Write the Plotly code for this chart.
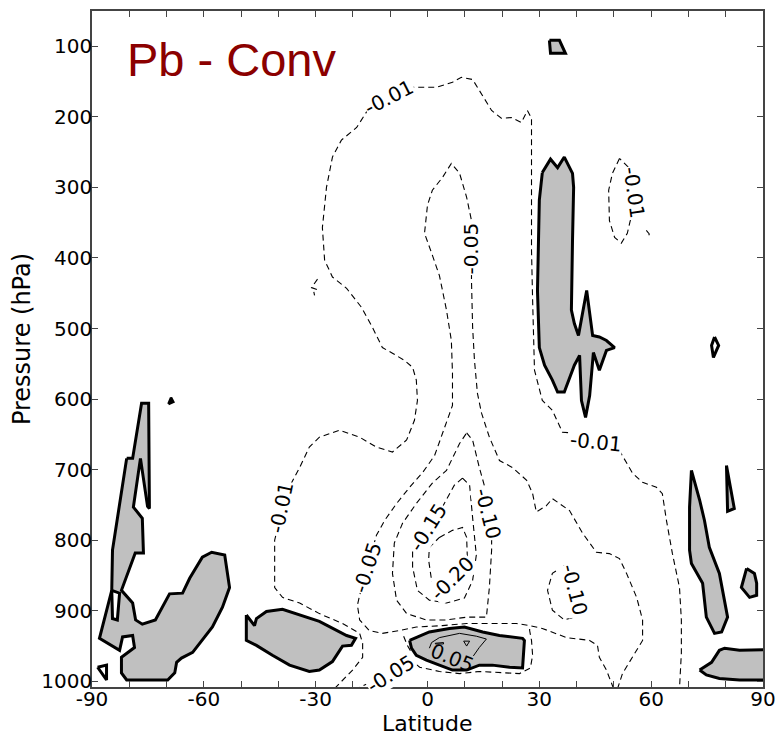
import plotly.graph_objects as go

# ---------------------------------------------------------------
# Pb tendency difference (Conv), zonal mean: latitude vs pressure
# Contour paths are (latitude [deg], pressure [hPa]) pairs.
# ---------------------------------------------------------------

# zero contour: positive regions (shaded)
top_cap = [(32.7, 91.5), (35.4, 91.5), (37.0, 110), (33.0, 110), (32.7, 91.5)]

nh_column = [(30.8, 279), (33.0, 260), (34.9, 272), (36.7, 257), (38.9, 280), (39.2, 300),
             (38.9, 375), (38.6, 446), (38.6, 474), (39.4, 493), (40.5, 510), (42.7, 446),
             (44.3, 510), (46.1, 512), (48.0, 517), (50.2, 527), (48.0, 531), (46.1, 559),
             (44.5, 534), (43.5, 595), (42.4, 626), (41.3, 602), (40.8, 538), (39.4, 552),
             (38.6, 563), (36.7, 590), (34.9, 590), (33.5, 573), (31.4, 552), (30.0, 527),
             (29.5, 446), (29.8, 375), (30.0, 318), (30.8, 279)]

sh_polar = [(-80.7, 684), (-79.1, 684), (-76.7, 606), (-74.8, 606), (-74.6, 755), (-75.1, 752),
            (-77.0, 684), (-78.9, 753), (-76.5, 769), (-76.2, 818), (-78.4, 818), (-82.1, 871),
            (-79.1, 889), (-78.3, 913), (-76.5, 919), (-73.0, 913), (-69.2, 876), (-65.7, 875),
            (-63.8, 854), (-60.4, 824), (-57.9, 817), (-54.4, 821), (-53.1, 867), (-55.0, 895),
            (-57.7, 923), (-61.2, 946), (-63.0, 959), (-66.0, 967), (-67.3, 973), (-67.8, 988),
            (-69.7, 998), (-80.7, 998), (-82.1, 988), (-82.1, 966), (-78.6, 952), (-79.1, 935),
            (-81.8, 937), (-82.6, 956), (-88.0, 939), (-84.7, 871), (-84.5, 814), (-80.7, 684)]

sh_polar_gap = [(-84.7, 871), (-82.6, 875), (-83.2, 913), (-84.5, 911), (-84.7, 871)]

sh_mid = [(-48.6, 906), (-46.4, 921), (-45.9, 911), (-43.2, 901), (-38.9, 898), (-34.3, 906),
          (-29.0, 915), (-21.7, 935), (-19.3, 939), (-20.4, 949), (-22.8, 950), (-25.5, 972),
          (-29.0, 984), (-31.7, 986), (-37.0, 977), (-41.6, 963), (-45.9, 949), (-48.6, 942),
          (-48.6, 906)]

tropics_sfc = [(-4.8, 942), (-3.0, 938), (0.5, 930), (5.9, 925), (9.9, 923), (14.8, 930),
               (19.3, 935), (25.5, 939), (26.0, 942), (25.5, 981), (22.0, 980), (17.4, 977),
               (13.9, 977), (10.5, 984), (6.7, 984), (3.2, 977), (-0.3, 970), (-3.0, 963),
               (-4.3, 953), (-4.8, 942)]

arctic_a = [(70.8, 701), (73.0, 743), (74.3, 772), (75.6, 810), (78.3, 847), (80.5, 909),
            (78.9, 930), (77.0, 932), (74.8, 909), (73.8, 861), (70.8, 833), (70.3, 814),
            (70.3, 753), (70.8, 701)]
arctic_b = [(80.2, 694), (82.3, 755), (80.5, 759), (80.2, 694)]
arctic_c = [(85.6, 840), (87.7, 847), (88.3, 861), (88.3, 878), (86.4, 881), (84.2, 867),
            (85.6, 840)]
arctic_sfc = [(73.0, 984), (76.2, 973), (78.3, 956), (79.7, 953), (83.7, 956), (91.0, 955),
              (91.0, 998), (83.7, 998), (78.3, 996), (74.8, 991), (73.0, 984)]

# tiny zero-contour loops (outline only)
small_loops = [
    [(77.0, 512), (78.1, 524), (76.7, 541), (76.2, 524), (77.0, 512)],
    [(-88.5, 980), (-86.1, 977), (-86.1, 998), (-88.5, 980)],
]
speck = [(-69.5, 607), (-68.8, 598), (-68.2, 604), (-69.5, 607)]

# +0.05 contour (thin solid)
pos05 = [(0.5, 953), (1.1, 945), (3.2, 938), (8.6, 932), (13.1, 936), (15.8, 940),
         (13.9, 952), (12.3, 964)]
pos05_loops = [
    [(2.1, 946), (4.3, 945), (4.3, 947), (2.1, 947), (2.1, 946)],
    [(9.7, 943), (11.3, 943), (10.5, 950), (9.7, 943)],
]

# negative contours (dashed)
neg01_main = [(-24.9, 1010), (-20.1, 984), (-17.4, 966), (-17.4, 946), (-18.2, 932),
              (-22.8, 918), (-29.0, 904), (-34.3, 889), (-38.9, 881), (-41.0, 867),
              (-41.0, 800), (-38.9, 753), (-36.5, 719), (-34.3, 697), (-31.7, 668),
              (-29.0, 654), (-23.6, 644), (-18.2, 654), (-13.7, 668), (-9.4, 675),
              (-5.6, 658), (-3.5, 630), (-2.7, 602), (-3.0, 573), (-4.0, 555), (-6.2, 545),
              (-9.4, 535), (-12.1, 527), (-14.8, 498), (-17.7, 470), (-21.7, 443),
              (-25.5, 427), (-27.6, 403), (-28.2, 357), (-27.1, 300), (-25.5, 257),
              (-23.1, 233), (-19.0, 215), (-16.1, 191), (-10.2, 172), (-4.0, 158),
              (2.4, 158), (6.7, 151), (9.1, 144), (12.1, 147), (13.9, 162), (17.2, 191),
              (19.8, 202), (22.5, 201), (25.2, 208), (26.8, 191), (27.9, 202), (27.9, 389),
              (28.2, 460), (28.7, 559), (30.8, 602), (33.5, 616), (36.2, 647), (38.9, 648),
              (45.1, 658), (51.5, 673), (55.0, 705), (57.7, 718), (61.4, 725), (63.0, 734),
              (64.1, 772), (65.7, 819), (67.6, 867), (68.1, 913), (68.1, 960), (67.6, 1010)]

neg01_east = [(51.5, 259), (49.6, 280), (48.6, 304), (48.8, 347), (50.2, 371), (52.0, 379),
              (53.6, 365), (54.7, 340), (55.5, 304), (54.2, 273), (51.5, 259)]

neg01_bits = [
    [(58.7, 361), (59.5, 366), (59.0, 372)],
    [(-29.5, 430), (-31.1, 442), (-29.0, 446)],
    [(-30.5, 448), (-30.3, 453)],
]

neg05_main = [(49.9, 1010), (48.0, 984), (46.1, 966), (45.6, 949), (43.5, 942), (37.3, 938),
              (30.8, 925), (27.4, 921), (23.9, 918), (16.6, 918), (10.5, 918), (4.0, 921),
              (-3.0, 923), (-7.5, 928), (-12.1, 932), (-15.6, 928), (-18.2, 913),
              (-18.8, 892), (-18.2, 878), (-16.1, 838), (-13.7, 793), (-11.5, 772),
              (-8.3, 748), (-4.8, 725), (-1.3, 704), (1.9, 680), (4.6, 641), (6.7, 609),
              (6.7, 563), (6.4, 517), (5.1, 474), (3.2, 425), (1.3, 396), (-0.8, 365),
              (0.0, 325), (1.3, 304), (4.0, 286), (6.4, 266), (8.6, 280), (10.5, 314),
              (11.8, 347), (11.8, 386), (11.8, 432), (12.1, 498), (12.6, 545), (13.4, 592),
              (14.5, 620), (16.6, 654), (19.3, 687), (22.8, 697), (26.6, 715), (28.2, 734),
              (29.2, 760), (31.9, 751), (33.5, 741), (38.1, 758), (41.6, 790), (45.3, 817),
              (48.8, 819), (51.5, 826), (53.4, 847), (56.1, 881), (57.7, 913), (57.7, 942),
              (55.0, 966), (52.3, 989), (51.0, 1010)]

neg05_sfc = [(-19.6, 1012), (-10.2, 989), (-4.0, 972), (-2.1, 980), (3.2, 986), (8.6, 989),
             (13.9, 986), (19.3, 987), (24.7, 989), (27.6, 981), (28.2, 963), (27.9, 942),
             (27.4, 928), (27.4, 921)]
neg05_tip = [(-6.4, 936), (-5.4, 949), (-4.3, 959)]

neg10_center = [(10.5, 648), (12.1, 658), (13.9, 697), (15.6, 729), (17.2, 772), (17.2, 814),
                (16.6, 867), (15.8, 909), (10.5, 909), (5.1, 913), (-0.3, 913), (-5.6, 904),
                (-8.3, 885), (-9.4, 847), (-8.9, 804), (-6.7, 776), (-3.0, 748), (1.3, 719),
                (5.1, 701), (8.6, 663), (10.5, 648)]

neg10_east = [(36.7, 836), (33.5, 847), (32.2, 871), (33.5, 899), (36.7, 913), (39.4, 909),
              (41.6, 885), (40.8, 857), (38.9, 840), (36.7, 836)]

neg15 = [(9.4, 712), (11.3, 722), (12.1, 768), (13.1, 821), (12.1, 857), (9.9, 882),
         (5.1, 889), (0.5, 885), (-2.7, 871), (-4.0, 838), (-4.0, 810), (0.0, 782),
         (4.0, 753), (7.2, 722), (9.4, 712)]

neg20 = [(3.2, 796), (6.7, 786), (9.4, 782), (10.5, 796), (10.7, 826), (6.7, 853),
         (2.4, 875), (1.1, 857), (0.3, 828), (0.5, 810), (3.2, 796)]

# inline contour labels: (text, latitude, pressure, angle)
contour_labels = [
    ("-0.01", -10.2, 172, -27),
    ("-0.05", 11.8, 386, -90),
    ("-0.01", 55.3, 307, 82),
    ("-0.01", 45.1, 661, 6),
    ("-0.01", -39.2, 753, -78),
    ("-0.05", -16.1, 838, -72),
    ("-0.15", 0.0, 782, -58),
    ("-0.20", 6.7, 853, -45),
    ("-0.10", 16.1, 762, 76),
    ("-0.10", 39.4, 871, 76),
    ("-0.05", -9.9, 990, -32),
]
pos_label = ("0.05", 6.7, 967, 22)

lat_ticks = list(range(-90, 91, 10))
lat_labels = [str(v) if v % 30 == 0 else "" for v in lat_ticks]
p_ticks = list(range(100, 1001, 100))

GRAY = "#c0c0c0"
DASH = "6px,4px"
LABEL_SIZE = 20

fig = go.Figure()


def path(pts, **kw):
    fig.add_trace(go.Scatter(x=[a for a, _ in pts], y=[b for _, b in pts], mode="lines",
                             hoverinfo="skip", showlegend=False, **kw))


# shaded positive regions with thick zero contour
for shape in [top_cap, nh_column, sh_polar, sh_mid, tropics_sfc,
              arctic_a, arctic_b, arctic_c, arctic_sfc]:
    path(shape, fill="toself", fillcolor=GRAY, line=dict(color="black", width=3))
path(sh_polar_gap, fill="toself", fillcolor="white", line=dict(color="black", width=3))
for loop in small_loops:
    path(loop, line=dict(color="black", width=3))
path(speck, fill="toself", fillcolor="black", line=dict(color="black", width=2.5))

# +0.05 thin contour
path(pos05, line=dict(color="black", width=1))
for loop in pos05_loops:
    path(loop, line=dict(color="black", width=1))

# negative dashed contours
for line in [neg01_main, neg01_east, neg05_main, neg05_sfc, neg05_tip,
             neg10_center, neg10_east, neg15, neg20] + neg01_bits:
    path(line, line=dict(color="black", width=1.1, dash=DASH))

for text, la, pr, ang in contour_labels:
    fig.add_annotation(x=la, y=pr, text=text, textangle=ang, showarrow=False,
                       bgcolor="white", borderpad=0,
                       font=dict(family="DejaVu Sans", size=LABEL_SIZE, color="black"))
fig.add_annotation(x=pos_label[1], y=pos_label[2], text=pos_label[0], textangle=pos_label[3],
                   showarrow=False,
                   font=dict(family="DejaVu Sans", size=LABEL_SIZE, color="black"))

fig.add_annotation(xref="paper", yref="paper", x=0.049, y=0.928, xanchor="left",
                   yanchor="middle", text="Pb - Conv", showarrow=False,
                   font=dict(family="Liberation Sans", size=47, color="#8b0000"))

# axis titles, placed beside the tick labels
fig.add_annotation(xref="paper", yref="paper", x=-0.104, y=0.515, xanchor="center",
                   yanchor="middle", text="Pressure (hPa)", textangle=-90, showarrow=False,
                   font=dict(family="DejaVu Sans", size=24, color="black"))
fig.add_annotation(xref="paper", yref="paper", x=0.5, y=-0.054, xanchor="center",
                   yanchor="middle", text="Latitude", showarrow=False,
                   font=dict(family="DejaVu Sans", size=22, color="black"))

axis_common = dict(showline=True, linecolor="#444444", linewidth=1.5, mirror="ticks",
                   ticks="inside", ticklen=6, tickwidth=1, tickcolor="#444444",
                   showgrid=False, zeroline=False,
                   tickfont=dict(family="DejaVu Sans", size=20, color="black"))

fig.update_xaxes(range=[-90, 90], tickmode="array", tickvals=lat_ticks, ticktext=lat_labels,
                 ticklabelstandoff=-7, **axis_common)
fig.update_yaxes(range=[1008, 50], tickmode="array", tickvals=p_ticks,
                 ticklabelstandoff=-6, **axis_common)

fig.update_layout(width=783, height=735, margin=dict(l=92, r=20, t=11, b=48, autoexpand=False),
                  plot_bgcolor="white", paper_bgcolor="white")

fig.write_html("out.html")
